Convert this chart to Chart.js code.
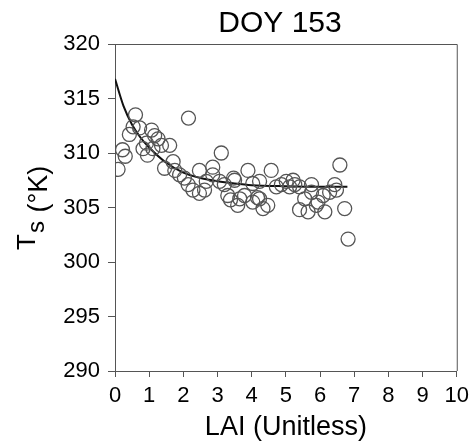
<!DOCTYPE html>
<html>
<head>
<meta charset="utf-8">
<script src="https://cdn.jsdelivr.net/npm/chart.js@4/dist/chart.umd.min.js"></script>
<style>
html,body{margin:0;padding:0;background:#fff;}
#wrap{width:475px;height:445px;position:relative;}
</style>
</head>
<body>
<div id="wrap"><canvas id="c" width="475" height="445"></canvas></div>
<script>
const titleText = "DOY 153";
const xTitle = "LAI (Unitless)";
const yTitleMain = "T";
const yTitleSub = "s";
const yTitleRest = "(°K)";
const xTicks = [0,1,2,3,4,5,6,7,8,9,10];
const yTicks = [290,295,300,305,310,315,320];

const lai = [0.09,0.22,0.3,0.42,0.53,0.6,0.72,0.82,0.92,0.95,1.07,1.11,1.16,1.26,1.36,1.45,1.6,1.7,1.75,1.89,
  2.03,2.14,2.15,2.28,2.47,2.47,2.62,2.67,2.86,2.86,3.06,3.11,3.2,3.3,3.38,3.47,3.5,3.59,3.65,3.79,3.89,
  4.03,4.03,4.17,4.23,4.23,4.33,4.47,4.57,4.72,4.87,5.01,5.11,5.21,5.26,5.4,5.4,5.55,5.65,5.75,5.75,
  5.89,5.94,6.09,6.14,6.28,6.43,6.48,6.58,6.72,6.82];
const ts = [308.5,310.3,309.7,311.7,312.4,313.5,312.3,310.4,310.9,309.8,312.1,310.4,311.6,311.3,310.7,308.6,310.7,309.2,308.4,308.0,
  307.7,307.1,313.2,306.6,308.4,306.3,306.6,307.4,308.7,308.0,307.4,310.0,307.1,306.1,305.7,307.7,307.5,305.2,305.8,306.1,308.4,
  307.2,305.5,305.9,305.8,307.4,304.9,305.2,308.4,306.9,307.1,307.4,306.9,307.5,307.1,306.9,304.8,305.8,304.6,307.1,306.4,
  305.2,305.5,306.1,304.6,306.4,307.1,306.6,308.9,304.9,302.1];

const curveLai = [0,0.25,0.5,0.75,1,1.5,2,2.5,3,3.5,4,5,6,6.8];
const curveTs = [316.8,314.3,312.6,311.4,310.5,309.1,308.2,307.7,307.4,307.2,307.05,306.95,306.9,306.9];

const axisColor = '#555555';
const FONT = '"Liberation Sans", Arial, sans-serif';

const boxPlugin = {
  id: 'box',
  afterDraw(chart) {
    const {ctx, chartArea: a} = chart;
    ctx.save();
    ctx.strokeStyle = axisColor;
    ctx.lineWidth = 1;
    ctx.beginPath();
    ctx.moveTo(a.left, a.top + 0.5);
    ctx.lineTo(a.right + 0.5, a.top + 0.5);
    ctx.lineTo(a.right + 0.5, a.bottom);
    ctx.stroke();
    // title
    ctx.fillStyle = '#000';
    ctx.font = '30px ' + FONT;
    ctx.textAlign = 'center';
    ctx.textBaseline = 'alphabetic';
    ctx.fillText(titleText, 280, 32);
    // y title
    ctx.translate(35, 250);
    ctx.rotate(-Math.PI / 2);
    ctx.textAlign = 'left';
    ctx.font = '26px ' + FONT;
    ctx.fillText(yTitleMain, 0, 0);
    let x = ctx.measureText(yTitleMain).width + 1;
    ctx.font = '24px ' + FONT;
    ctx.fillText(yTitleSub, x, 9);
    x += ctx.measureText(yTitleSub + ' ').width + 2;
    ctx.font = '27px ' + FONT;
    ctx.fillText(yTitleRest, x, 12);
    ctx.restore();
  }
};

new Chart(document.getElementById('c'), {
  type: 'scatter',
  data: {
    datasets: [
      {
        label: 'obs',
        data: lai.map((x, i) => ({x: x, y: ts[i]})),
        pointStyle: 'circle',
        pointRadius: 7,
        pointBackgroundColor: 'rgba(0,0,0,0)',
        pointBorderColor: '#555555',
        pointBorderWidth: 1.3,
        showLine: false
      },
      {
        label: 'fit',
        data: curveLai.map((x, i) => ({x: x, y: curveTs[i]})),
        showLine: true,
        pointRadius: 0,
        borderColor: '#111111',
        borderWidth: 2,
        cubicInterpolationMode: 'monotone',
        fill: false
      }
    ]
  },
  options: {
    responsive: false,
    animation: false,
    devicePixelRatio: 1,
    layout: {padding: {left: 0, right: 18, top: 44, bottom: 0}},
    plugins: {legend: {display: false}, tooltip: {enabled: false}, title: {display: false}},
    scales: {
      x: {
        type: 'linear', min: 0, max: 10,
        afterBuildTicks(s) { s.ticks = xTicks.map(v => ({value: v})); },
        afterFit(s) { s.height = 74; },
        grid: {drawOnChartArea: false, drawTicks: true, tickLength: 6, color: axisColor},
        border: {display: true, color: axisColor, width: 1},
        ticks: {color: '#000', padding: 6, maxRotation: 0, autoSkip: false,
          font: {family: FONT, size: 22}},
        title: {display: true, text: xTitle, color: '#000', padding: {top: 0, bottom: 1},
          font: {family: FONT, size: 27}}
      },
      y: {
        type: 'linear', min: 290, max: 320,
        afterBuildTicks(s) { s.ticks = yTicks.map(v => ({value: v})); },
        afterFit(s) { s.width = 115; },
        grid: {drawOnChartArea: false, drawTicks: true, tickLength: 7, color: axisColor},
        border: {display: true, color: axisColor, width: 1},
        ticks: {color: '#000', padding: 8, autoSkip: false,
          font: {family: FONT, size: 22}}
      }
    }
  },
  plugins: [boxPlugin]
});
</script>
</body>
</html>
